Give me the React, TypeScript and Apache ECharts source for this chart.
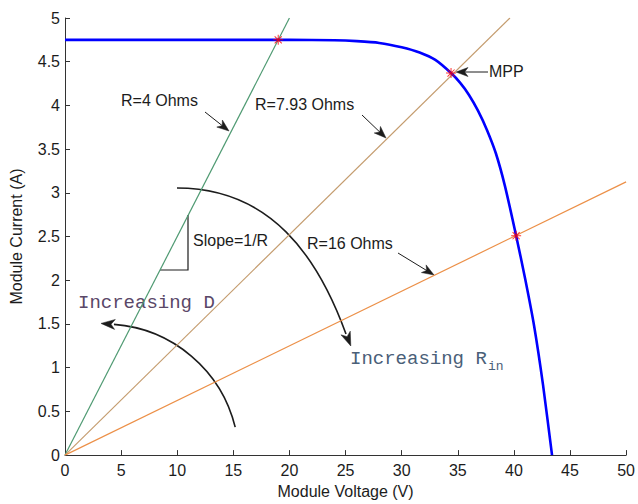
import React, { useEffect, useRef } from "react";
import * as echarts from "echarts";

// PV curve of the module (voltage V, current A)
const pvVoltage = [0, 10, 20, 24, 26, 28, 30, 31.6, 33, 34.4, 35.2, 36, 36.8, 37.6, 38.4, 39.2, 40.2, 41.0, 41.8, 42.6, 43.4];
const pvCurrent = [4.75, 4.75, 4.75, 4.745, 4.735, 4.715, 4.665, 4.605, 4.52, 4.37, 4.26, 4.12, 3.94, 3.72, 3.45, 3.08, 2.51, 2.02, 1.48, 0.8, 0];

// load lines I = V / R
const loadR4 = [[0, 0], [20, 5]];
const loadR793 = [[0, 0], [39.65, 5]];
const loadR16 = [[0, 0], [50, 3.125]];

// operating points (red stars)
const operatingPoints = [[19, 4.75], [34.4, 4.37], [40.2, 2.51]];

const xTicks = { min: 0, max: 50, interval: 5 };
const yTicks = { min: 0, max: 5, interval: 0.5 };

const SANS = "'Liberation Sans', Arial, Helvetica, sans-serif";
const MONO = "'Liberation Mono', 'Courier New', monospace";
const INK = "#1c1c1c";

const STAR =
  "path://M9,0h2v20h-2z M0,9h20v2h-20z M2.2,3.6l1.4,-1.4l14.2,14.2l-1.4,1.4z M16.4,2.2l1.4,1.4l-14.2,14.2l-1.4,-1.4z";

function head(tx: number, ty: number, dx: number, dy: number, len = 12, hw = 4.5) {
  const m = Math.hypot(dx, dy);
  const ux = dx / m, uy = dy / m;
  const nx = -uy, ny = ux;
  const bx = tx - ux * len, by = ty - uy * len;
  return {
    type: "polygon",
    shape: {
      points: [
        [tx, ty],
        [bx + nx * hw, by + ny * hw],
        [tx - ux * len * 0.72, ty - uy * len * 0.72],
        [bx - nx * hw, by - ny * hw],
      ],
    },
    style: { fill: INK, stroke: INK, lineWidth: 0.5 },
    silent: true,
  };
}

function arrow(x1: number, y1: number, x2: number, y2: number, len = 12) {
  const dx = x2 - x1, dy = y2 - y1;
  const m = Math.hypot(dx, dy);
  const ex = x2 - (dx / m) * len * 0.6, ey = y2 - (dy / m) * len * 0.6;
  return [
    { type: "line", shape: { x1, y1, x2: ex, y2: ey }, style: { stroke: INK, lineWidth: 1 }, silent: true },
    head(x2, y2, dx, dy, len),
  ];
}

function label(text: string, x: number, y: number, font = `16px ${SANS}`, fill = INK) {
  return {
    type: "text",
    style: { text, x, y, font, fill, align: "left", verticalAlign: "middle" },
    silent: true,
  };
}

export default function App() {
  const ref = useRef<HTMLDivElement>(null);
  useEffect(() => {
    if (!ref.current) return;
    const chart = echarts.init(ref.current, null, { renderer: "svg" });

    const dArcStart = -1.497, dArcEnd = -0.238;
    const dcx = 104, dcy = 459, dr = 135;
    const dEndX = dcx + dr * Math.cos(dArcStart), dEndY = dcy + dr * Math.sin(dArcStart);
    const dDirX = Math.sin(dArcStart), dDirY = -Math.cos(dArcStart);

    const graphic: any[] = [
      label("R=4 Ohms", 121, 100),
      ...arrow(205, 112, 229, 131),
      label("R=7.93 Ohms", 255, 104),
      ...arrow(362, 115, 386, 138),
      label("MPP", 489, 71),
      ...arrow(488, 72, 456, 72),
      label("R=16 Ohms", 307, 243),
      ...arrow(398, 253, 434, 275),
      label("Slope=1/R", 193, 240),
      {
        type: "polyline",
        shape: { points: [[188, 215], [188, 270], [160, 270]] },
        style: { stroke: INK, lineWidth: 1.2, fill: null },
        silent: true,
      },
      // Increasing R_in curved arrow
      {
        type: "bezierCurve",
        shape: { x1: 177, y1: 188, cpx1: 271, cpy1: 188, cpx2: 318, cpy2: 257, x2: 346, y2: 334 },
        style: { stroke: INK, lineWidth: 1.6, fill: null },
        silent: true,
      },
      head(350.8, 346, 0.371, 0.928, 14, 5),
      label("Increasing R", 350, 359, `19px ${MONO}`, "#4a6078"),
      label("in", 488, 366, `13px ${MONO}`, "#4a6078"),
      // Increasing D curved arrow
      {
        type: "arc",
        shape: { cx: dcx, cy: dcy, r: dr, startAngle: dArcStart, endAngle: dArcEnd, clockwise: true },
        style: { stroke: INK, lineWidth: 1.6, fill: null },
        silent: true,
      },
      head(dEndX + dDirX * 13, dEndY + dDirY * 13, dDirX, dDirY, 14, 5),
      label("Increasing D", 78, 303, `19px ${MONO}`, "#5a4868"),
    ];

    const axisCommon = {
      axisLine: { show: true, lineStyle: { color: "#333", width: 1 } },
      axisTick: { show: true, inside: true, length: 5, lineStyle: { color: "#333" } },
      splitLine: { show: false },
      axisLabel: { color: INK, fontSize: 16, fontFamily: SANS },
      nameTextStyle: { color: INK, fontSize: 16, fontFamily: SANS },
    };

    chart.setOption({
      animation: false,
      backgroundColor: "#ffffff",
      grid: { left: 64, right: 11, top: 18, bottom: 47, containLabel: false },
      xAxis: {
        type: "value",
        ...xTicks,
        ...axisCommon,
        axisLabel: { ...axisCommon.axisLabel, margin: 7 },
        name: "Module Voltage (V)",
        nameLocation: "middle",
        nameGap: 26,
      },
      yAxis: {
        type: "value",
        ...yTicks,
        ...axisCommon,
        axisLabel: { ...axisCommon.axisLabel, margin: 5 },
        name: "Module Current (A)",
        nameLocation: "middle",
        nameGap: 41,
      },
      series: [
        { type: "line", data: loadR4, showSymbol: false, lineStyle: { color: "#4f9a72", width: 1.2 }, z: 2 },
        { type: "line", data: loadR793, showSymbol: false, lineStyle: { color: "#c49c6e", width: 1.2 }, z: 2 },
        { type: "line", data: loadR16, showSymbol: false, lineStyle: { color: "#ec9048", width: 1.2 }, z: 2 },
        {
          type: "line",
          data: pvVoltage.map((v, i) => [v, pvCurrent[i]]),
          showSymbol: false,
          smooth: 0.2,
          lineStyle: { color: "#0000ff", width: 2.6 },
          z: 3,
        },
        {
          type: "scatter",
          data: operatingPoints,
          symbol: STAR,
          symbolSize: 10,
          itemStyle: { color: "#ff0000" },
          z: 4,
        },
      ],
      graphic,
    });
    return () => chart.dispose();
  }, []);
  return <div ref={ref} style={{ width: 638, height: 504, position: "absolute", left: 0, top: 0 }} />;
}
